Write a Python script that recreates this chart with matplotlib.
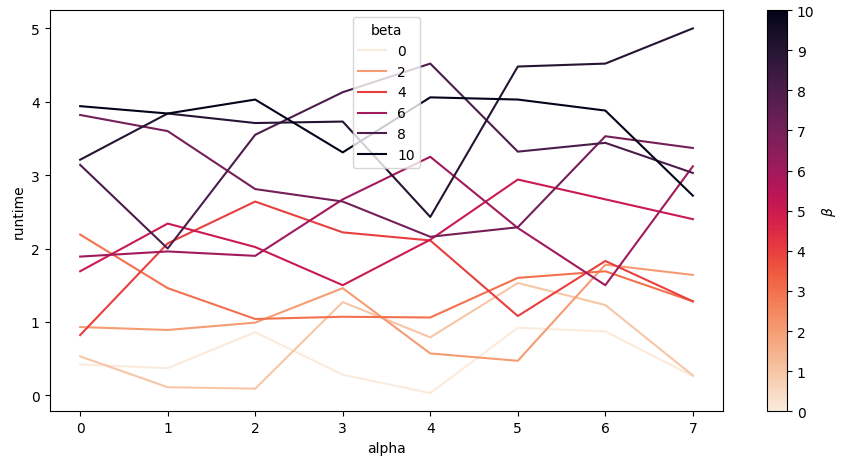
import numpy as np
import pandas as pd
import matplotlib
matplotlib.use("Agg")
import matplotlib.pyplot as plt
import seaborn as sns

alpha = [0, 1, 2, 3, 4, 5, 6, 7]
betas = [0, 1, 2, 3, 4, 5, 6, 7, 8, 9, 10]

# runtime per beta, one value per alpha
rt_b0 = [0.42, 0.37, 0.86, 0.28, 0.03, 0.92, 0.87, 0.26]
rt_b1 = [0.53, 0.11, 0.09, 1.27, 0.79, 1.53, 1.23, 0.27]
rt_b2 = [0.93, 0.89, 0.99, 1.46, 0.57, 0.47, 1.78, 1.64]
rt_b3 = [2.19, 1.46, 1.04, 1.07, 1.06, 1.60, 1.69, 1.28]
rt_b4 = [0.82, 2.07, 2.64, 2.22, 2.11, 1.08, 1.83, 1.28]
rt_b5 = [1.69, 2.34, 2.02, 1.50, 2.12, 2.94, 2.67, 2.40]
rt_b6 = [1.89, 1.96, 1.90, 2.67, 3.25, 2.28, 1.50, 3.12]
rt_b7 = [3.82, 3.60, 2.81, 2.64, 2.16, 2.29, 3.53, 3.37]
rt_b8 = [3.14, 2.00, 3.55, 4.13, 4.52, 3.32, 3.44, 3.03]
rt_b9 = [3.21, 3.84, 3.71, 3.73, 2.43, 4.48, 4.52, 5.00]
rt_b10 = [3.94, 3.84, 4.03, 3.31, 4.06, 4.03, 3.88, 2.72]

runtimes = [rt_b0, rt_b1, rt_b2, rt_b3, rt_b4, rt_b5,
            rt_b6, rt_b7, rt_b8, rt_b9, rt_b10]

rows = []
for b, vals in zip(betas, runtimes):
    for a, v in zip(alpha, vals):
        rows.append({"alpha": a, "beta": b, "runtime": v})
df = pd.DataFrame(rows)

fig = plt.figure(figsize=(8.61, 4.64), dpi=100)
ax = fig.add_axes([0.0575, 0.1114, 0.7828, 0.8646])
cax = fig.add_axes([0.8908, 0.1114, 0.0232, 0.8646])

sns.lineplot(data=df, x="alpha", y="runtime", hue="beta",
             palette="rocket_r", ax=ax)
sns.move_legend(ax, "upper center")

norm = plt.Normalize(min(betas), max(betas))
sm = plt.cm.ScalarMappable(cmap=sns.color_palette("rocket_r", as_cmap=True), norm=norm)
sm.set_array([])
cb = fig.colorbar(sm, cax=cax, ticks=betas)
cb.set_label(r"$\beta$")

fig.savefig("out.png", dpi=100)
